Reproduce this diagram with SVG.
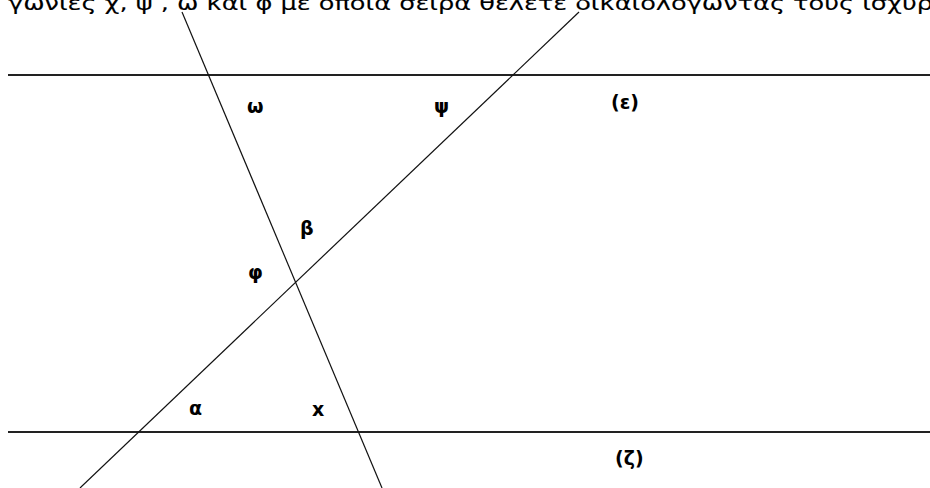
<svg xmlns="http://www.w3.org/2000/svg" width="930" height="488" viewBox="0 0 930 488">
<style>
.par{stroke:#222;stroke-width:2;fill:none}
.tr{stroke:#111;stroke-width:1.2;fill:none}
.lbl{font-family:"DejaVu Sans","Liberation Sans",sans-serif;font-weight:bold;font-size:19px;fill:#000}
.top{font-family:"DejaVu Sans","Noto Sans",sans-serif;font-size:20px;fill:#000;stroke:#000;stroke-width:0.1}
</style>
<rect width="930" height="488" fill="#fff"/>
<text class="top" x="8" y="10" textLength="925" lengthAdjust="spacingAndGlyphs">γωνίες χ, ψ , ω και φ με οποία σειρά θέλετε δικαιολογώντας τους ισχυρ</text>
<g id="connectors">
<line id="eps" class="par" x1="8" y1="75" x2="930" y2="75"/>
<line id="zeta" class="par" x1="8" y1="432" x2="930" y2="432"/>
<line id="steep" class="tr" x1="182" y1="12" x2="382" y2="488"/>
<line id="diag" class="tr" x1="579" y1="12" x2="80" y2="488"/>
</g>
<g id="label-omega"><text class="lbl" x="247" y="113">ω</text></g>
<g id="label-psi"><text class="lbl" x="434" y="113">ψ</text></g>
<g id="label-eps"><text class="lbl" x="611" y="109">(ε)</text></g>
<g id="label-beta"><text class="lbl" x="300" y="235">β</text></g>
<g id="label-phi"><text class="lbl" x="248" y="279">φ</text></g>
<g id="label-alpha"><text class="lbl" x="189" y="415">α</text></g>
<g id="label-x"><text class="lbl" x="312" y="416">x</text></g>
<g id="label-zeta"><text class="lbl" x="615" y="465">(ζ)</text></g>
</svg>
